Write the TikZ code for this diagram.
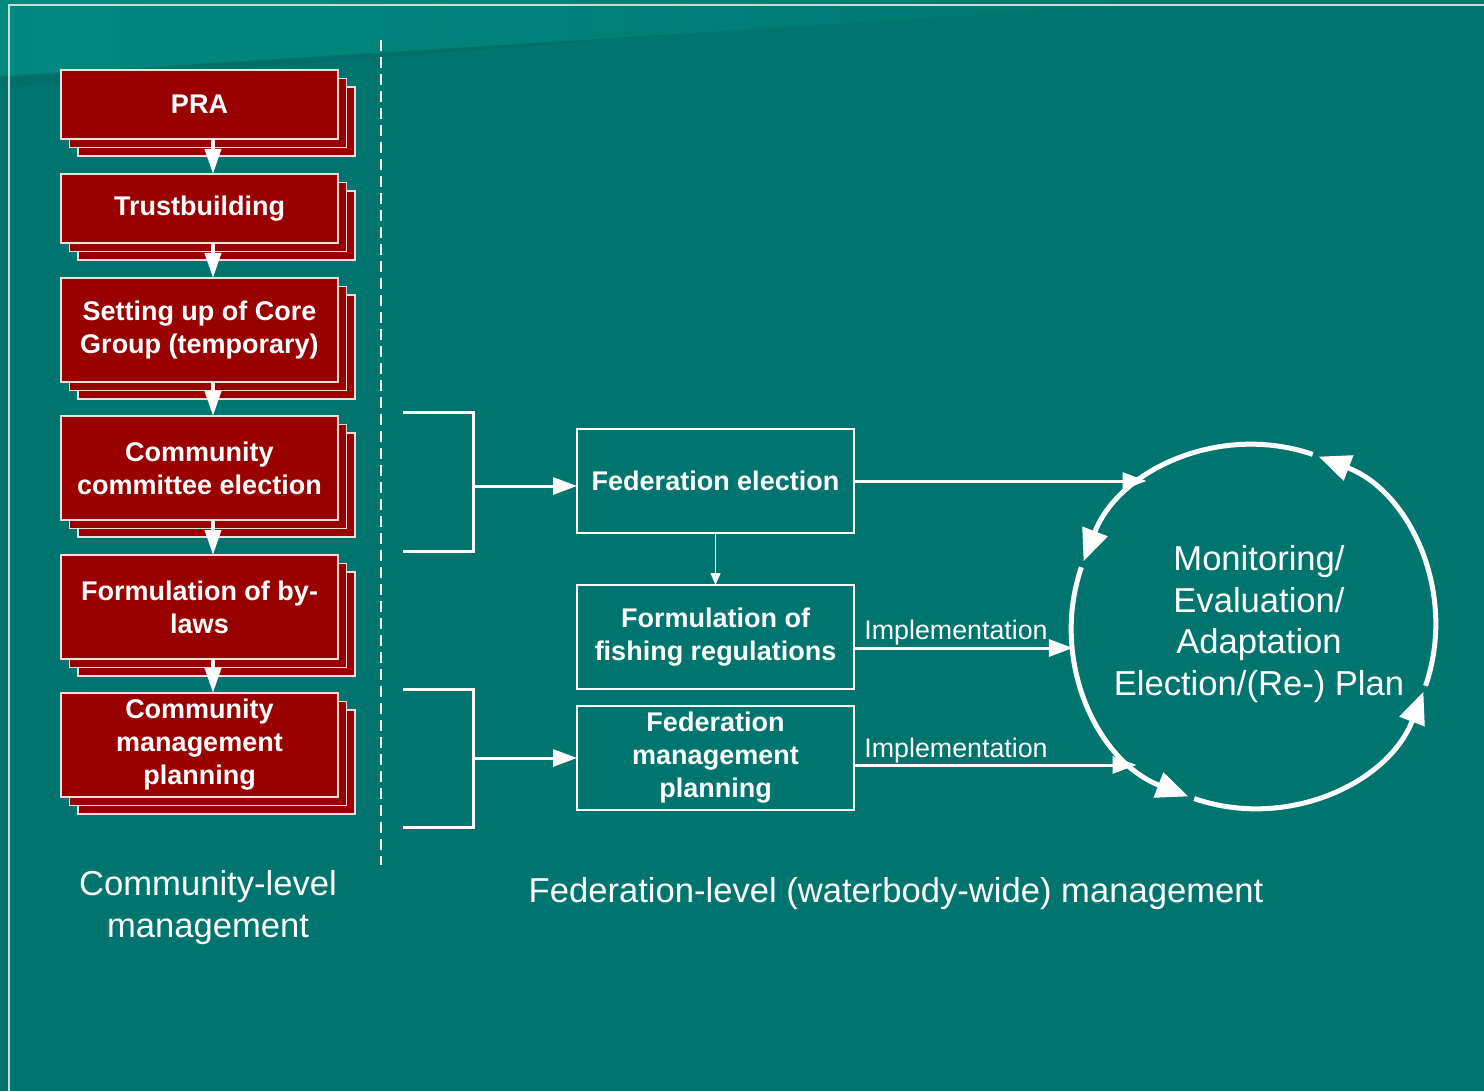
\documentclass[tikz,border=0pt]{standalone}
\usepackage{fontspec}
\setmainfont{Liberation Sans}
\usetikzlibrary{arrows.meta,shadows}
\definecolor{bgteal}{HTML}{007570}
\definecolor{bandlight}{HTML}{00897F}
\definecolor{bgdark}{HTML}{006A66}
\definecolor{boxred}{HTML}{990000}
\definecolor{boxline}{HTML}{F2DCDC}
\definecolor{framecol}{HTML}{C4DEDC}

\begin{document}
\begin{tikzpicture}[x=0.5pt,y=-0.5pt,
  stepbox/.style={draw=boxline,line width=0.75pt,fill=boxred,text=white,
    font=\bfseries\fontsize{13.5}{16.5}\selectfont,align=center,
    minimum width=138.5pt,inner sep=0pt,outer sep=0pt,
    double copy shadow={shadow xshift=4.25pt,shadow yshift=-4.25pt,
      fill=boxred,draw=boxline,line width=0.75pt}},
  fedbox/.style={draw=white,line width=0.75pt,text=white,
    font=\bfseries\fontsize{13.5}{16.5}\selectfont,align=center,
    minimum width=138.5pt,minimum height=52pt,inner sep=0pt,outer sep=0pt},
  biglabel/.style={text=white,font=\fontsize{17.3}{21}\selectfont,align=center},
  implabel/.style={anchor=base west,inner sep=0pt,text=white,font=\fontsize{13.4}{16}\selectfont},
  steparrow/.style={white,line width=2pt,-{Triangle[width=8pt,length=12.5pt]}},
  brackline/.style={white,line width=1.5pt},
  fedarrow/.style={white,line width=1.5pt,-{Triangle[width=8.5pt,length=12pt]}},
  cycarrow/.style={white,line width=2.5pt,-{Triangle[width=13pt,length=16pt]}}]

	%background
	\useasboundingbox (0,0) rectangle (1484,1091);
	\fill[bgteal] (0,0) rectangle (1484,1091);
	\shade[left color=bandlight,right color=bgteal] (0,0) -- (1200,0) -- (0,78) -- cycle; %light band
	\fill[bgdark,fill opacity=0.6] (0,76) -- (680,34) -- (0,88) -- cycle; %band edge
	\draw[framecol,line width=1pt] (9,1091) -- (9,5) -- (1484,5); %frame

	%community steps
	\node[stepbox,minimum height=34.5pt] (pra) at (199.5,104.5) {PRA};
	\node[stepbox,minimum height=34.5pt] (trust) at (199.5,208.5) {Trustbuilding};
	\node[stepbox,minimum height=52pt] (core) at (199.5,330) {Setting up of Core\\Group (temporary)};
	\node[stepbox,minimum height=52pt] (commelec) at (199.5,468) {Community\\committee election};
	\node[stepbox,minimum height=52pt] (bylaws) at (199.5,607) {Formulation of by-\\laws};
	\node[stepbox,minimum height=52pt] (commplan) at (199.5,745) {Community\\management\\planning};

	\draw[steparrow] ([xshift=6.75pt]pra.south) -- ([xshift=6.75pt]trust.north);
	\draw[steparrow] ([xshift=6.75pt]trust.south) -- ([xshift=6.75pt]core.north);
	\draw[steparrow] ([xshift=6.75pt]core.south) -- ([xshift=6.75pt]commelec.north);
	\draw[steparrow] ([xshift=6.75pt]commelec.south) -- ([xshift=6.75pt]bylaws.north);
	\draw[steparrow] ([xshift=6.75pt]bylaws.south) -- ([xshift=6.75pt]commplan.north);

	%divider
	\draw[white,line width=0.75pt,dash pattern=on 5.5pt off 3pt] (381,40) -- (381,865);

	%federation boxes
	\node[fedbox] (fedelec) at (715.5,481) {Federation election};
	\node[fedbox] (fishreg) at (715.5,637) {Formulation of\\fishing regulations};
	\node[fedbox] (fedplan) at (715.5,758) {Federation\\management\\planning};
	\draw[white,line width=0.75pt,-{Triangle[width=5pt,length=6pt]}] (fedelec.south) -- (fishreg.north);

	%brackets
	\draw[brackline] (403,412) -- (473,412) -- (473,551) -- (403,551);
	\draw[brackline] (403,689) -- (473,689) -- (473,827) -- (403,827);
	\coordinate (brk1) at (473,486);
	\coordinate (brk2) at (473,758);
	\draw[fedarrow] (brk1) -- (brk1 -| fedelec.west);
	\draw[fedarrow] (brk2) -- (brk2 -| fedplan.west);

	%cycle
	\node[circle,minimum size=182pt,inner sep=0pt,outer sep=0pt] (circ) at (1253.5,626.5) {};
	\node[biglabel,font=\fontsize{17.3}{20.8}\selectfont] (cyctext) at (1259,624)
	  {Monitoring/\\Evaluation/\\Adaptation\\Election/(Re-) Plan};
	\draw[cycarrow] (circ.71) arc[start angle=71,end angle=159,radius=91pt];
	\draw[cycarrow] (circ.161) arc[start angle=161,end angle=249,radius=91pt];
	\draw[cycarrow] (circ.251) arc[start angle=251,end angle=339,radius=91pt];
	\draw[cycarrow] (circ.341) arc[start angle=341,end angle=429,radius=91pt];

	%arrows into cycle
	\coordinate (imp1) at ([yshift=-5.5pt]fishreg.east);
	\coordinate (imp2) at ([yshift=-3.5pt]fedplan.east);
	\draw[fedarrow] (fedelec.east) -- (circ.126 |- fedelec.east);
	\draw[fedarrow] (imp1) -- (circ.187 |- imp1);
	\draw[fedarrow] (imp2) -- (circ.230 |- imp2);
	\node[implabel] (implab1) at (864,639) {Implementation};
	\node[implabel] (implab2) at (864,757) {Implementation};

	%level labels
	\node[biglabel] (commlab) at (208,908) {Community-level\\management};
	\node[biglabel] (fedlab) at (896,894) {Federation-level (waterbody-wide) management};
\end{tikzpicture}
\end{document}
